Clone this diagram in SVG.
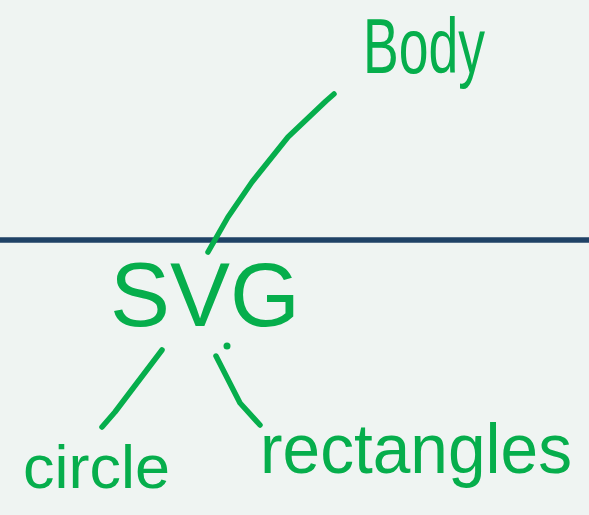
<svg xmlns="http://www.w3.org/2000/svg" width="589" height="515" viewBox="0 0 589 515">
<style>
.ink{fill:none;stroke:#06AE4C;stroke-width:5.5;stroke-linecap:round;stroke-linejoin:round}
.lbl{fill:#06AE4C;font-family:"Liberation Sans","DejaVu Sans",sans-serif}
</style>
<rect width="589" height="515" fill="#EFF4F2"/>
<line x1="0" y1="240" x2="589" y2="240" stroke="#1F4266" stroke-width="5.5"/>
<g id="connectors">
<path class="ink" d="M334,94 L326,101 L288,137 L252,182 L228,217 L208,252"/>
<path class="ink" d="M162,350 L115,412 L102,427"/>
<path class="ink" d="M216,356 L240,403 L260,425"/>
<circle cx="227" cy="346" r="3.5" fill="#06AE4C"/>
</g>
<g id="body"><text class="lbl" x="363" y="73" font-size="78" textLength="122" lengthAdjust="spacingAndGlyphs">Body</text></g>
<g id="svg"><text class="lbl" x="110" y="326" font-size="91" textLength="190" lengthAdjust="spacingAndGlyphs">SVG</text></g>
<g id="circle"><text class="lbl" x="23" y="488" font-size="62" textLength="147" lengthAdjust="spacingAndGlyphs">circle</text></g>
<g id="rectangles"><text class="lbl" x="260" y="473" font-size="70" textLength="312" lengthAdjust="spacingAndGlyphs">rectangles</text></g>
</svg>
